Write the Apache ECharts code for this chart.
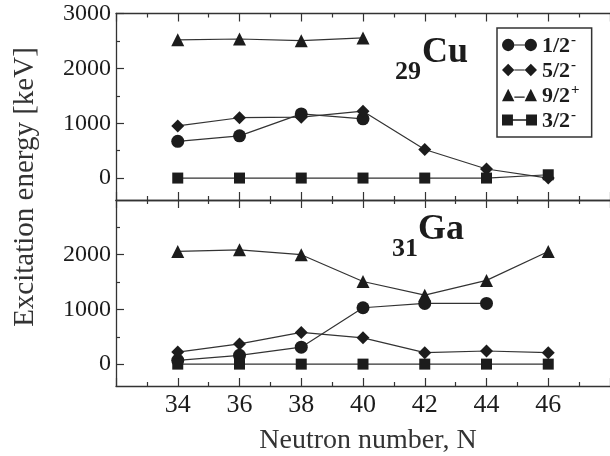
<!DOCTYPE html>
<html><head><meta charset="utf-8">
<script src="https://cdn.jsdelivr.net/npm/echarts@6/dist/echarts.min.js"></script>
<style>html,body{margin:0;padding:0;background:#fff}#c{width:610px;height:456px}</style>
</head><body><div id="c"></div>
<script>
// ---- data ----
const N = [34, 36, 38, 40, 42, 44, 46];
const seriesNames = ['1/2-', '5/2-', '9/2+', '3/2-'];
const cu_1_2m = [670, 770, 1170, 1080, null, null, null];
const cu_5_2m = [950, 1100, 1110, 1220, 520, 165, 0];
const cu_9_2p = [2520, 2535, 2505, 2555, null, null, null];
const cu_3_2m = [0, 0, 0, 0, 0, 0, 60];
const ga_1_2m = [70, 160, 310, 1030, 1110, 1110, null];
const ga_5_2m = [220, 370, 580, 480, 210, 240, 210];
const ga_9_2p = [2060, 2090, 2000, 1510, 1260, 1530, 2060];
const ga_3_2m = [0, 0, 0, 0, 0, 0, 0];
const xTickLabels = [34, 36, 38, 40, 42, 44, 46];
const yTicksTop = [0, 1000, 2000, 3000];
const yTicksBottom = [0, 1000, 2000];
const yMinorTicks = [500, 1500, 2500];

// ---- styling ----
const INK = '#1c1c1c';
const LINE = '#333';
const FONT = '"Liberation Serif", "Times New Roman", serif';
const symbols = ['circle', 'diamond', 'triangle', 'rect'];
const symSizes = [13, 13, 13, 11];
const legendIcons = [
  'path://M0,6A6,6,0,1,1,12,6A6,6,0,1,1,0,6Z M12,5.4H22V6.6H12Z M22,6A6,6,0,1,1,34,6A6,6,0,1,1,22,6Z',
  'path://M0,6L6,0L12,6L6,12Z M12,5.4H22V6.6H12Z M22,6L28,0L34,6L28,12Z',
  'path://M0,12L6,0L12,12Z M12,7.4H22V8.6H12Z M22,12L28,0L34,12Z',
  'path://M1,1H11V11H1Z M11,5.4H23V6.6H11Z M23,1H33V11H23Z'
];

function pairs(vals) {
  const out = [];
  N.forEach((n, i) => { if (vals[i] !== null) out.push([n, vals[i]]); });
  return out;
}

const grids = [
  { left: 116, width: 497, top: 13.5, height: 186.5 },
  { left: 116, width: 497, top: 200, height: 186 }
];

function xAx(gi, pos, labels) {
  return {
    type: 'value', gridIndex: gi, position: pos, min: 32, max: 48, interval: 2,
    axisLine: { show: true, onZero: false, lineStyle: { color: LINE, width: 1.3 } },
    axisTick: { show: true, inside: true, length: 8, lineStyle: { color: LINE, width: 1.2 } },
    minorTick: { show: true, splitNumber: 2, length: 4, lineStyle: { color: LINE, width: 1.2 } },
    splitLine: { show: false },
    axisLabel: labels ? { show: true, customValues: xTickLabels, margin: 6, fontFamily: FONT, fontSize: 26, color: INK, formatter: v => String(v) } : { show: false }
  };
}
function yAx(gi, ticks, minor) {
  return {
    type: 'value', gridIndex: gi, position: 'left', min: -400, max: 3000,
    axisLine: { show: !minor, onZero: false, lineStyle: { color: LINE, width: 1.3 } },
    axisTick: { show: true, inside: true, length: minor ? 4 : 8, customValues: ticks, lineStyle: { color: LINE, width: 1.2 } },
    splitLine: { show: false },
    axisLabel: minor ? { show: false } : { show: true, customValues: ticks, margin: 5, fontFamily: FONT, fontSize: 24, color: INK, formatter: v => String(v) }
  };
}

const topData = [cu_1_2m, cu_5_2m, cu_9_2p, cu_3_2m];
const botData = [ga_1_2m, ga_5_2m, ga_9_2p, ga_3_2m];
const series = [];
[[topData, 0, 0], [botData, 3, 2]].forEach(([set, xi, yi]) => {
  set.forEach((vals, k) => {
    series.push({
      name: seriesNames[k], type: 'line', xAxisIndex: xi, yAxisIndex: yi,
      data: pairs(vals), symbol: symbols[k], symbolSize: symSizes[k],
      itemStyle: { color: INK }, lineStyle: { color: LINE, width: 1.2 },
      z: 3 + (k === 3 ? 1 : 0)
    });
  });
});

const chart = echarts.init(document.getElementById('c'));
chart.setOption({
  animation: false,
  backgroundColor: '#fff',
  grid: grids,
  xAxis: [xAx(0, 'bottom', false), xAx(0, 'top', false), xAx(1, 'top', false), xAx(1, 'bottom', true)],
  yAxis: [yAx(0, yTicksTop, false), yAx(0, yMinorTicks, true), yAx(1, yTicksBottom, false), yAx(1, yMinorTicks, true)],
  legend: {
    orient: 'vertical', left: 497, top: 28,
    data: seriesNames.map((n, i) => ({ name: n, icon: legendIcons[i] })),
    itemWidth: 35, itemHeight: 13, itemGap: 1,
    padding: [5, 12, 5, 5],
    borderColor: LINE, borderWidth: 1.5,
    inactiveColor: '#bbb',
    itemStyle: { color: INK },
    formatter: name => '{a|' + name.slice(0, -1) + '}{s|' + name.slice(-1) + '}',
    textStyle: {
      color: INK,
      rich: {
        a: { fontFamily: FONT, fontWeight: 'bold', fontSize: 22, color: INK, lineHeight: 24, verticalAlign: 'bottom' },
        s: { fontFamily: FONT, fontWeight: 'bold', fontSize: 15, color: INK, lineHeight: 15, verticalAlign: 'top', padding: [0, 0, 0, 1] }
      }
    }
  },
  graphic: [
    { type: 'text', x: 395, y: 72, style: { text: '29', font: 'bold 26px ' + FONT, fill: INK, verticalAlign: 'middle' } },
    { type: 'text', x: 422, y: 53, style: { text: 'Cu', font: 'bold 36px ' + FONT, fill: INK, verticalAlign: 'middle' } },
    { type: 'text', x: 392, y: 249, style: { text: '31', font: 'bold 26px ' + FONT, fill: INK, verticalAlign: 'middle' } },
    { type: 'text', x: 418, y: 230, style: { text: 'Ga', font: 'bold 36px ' + FONT, fill: INK, verticalAlign: 'middle' } },
    { type: 'text', x: 25, y: 187, rotation: Math.PI / 2, style: { text: 'Excitation energy [keV]', font: '29px ' + FONT, fill: '#333', align: 'center', verticalAlign: 'middle' } },
    { type: 'text', x: 368, y: 441, style: { text: 'Neutron number, N', font: '28px ' + FONT, fill: '#333', align: 'center', verticalAlign: 'middle' } }
  ],
  series: series
});
</script>
</body></html>
